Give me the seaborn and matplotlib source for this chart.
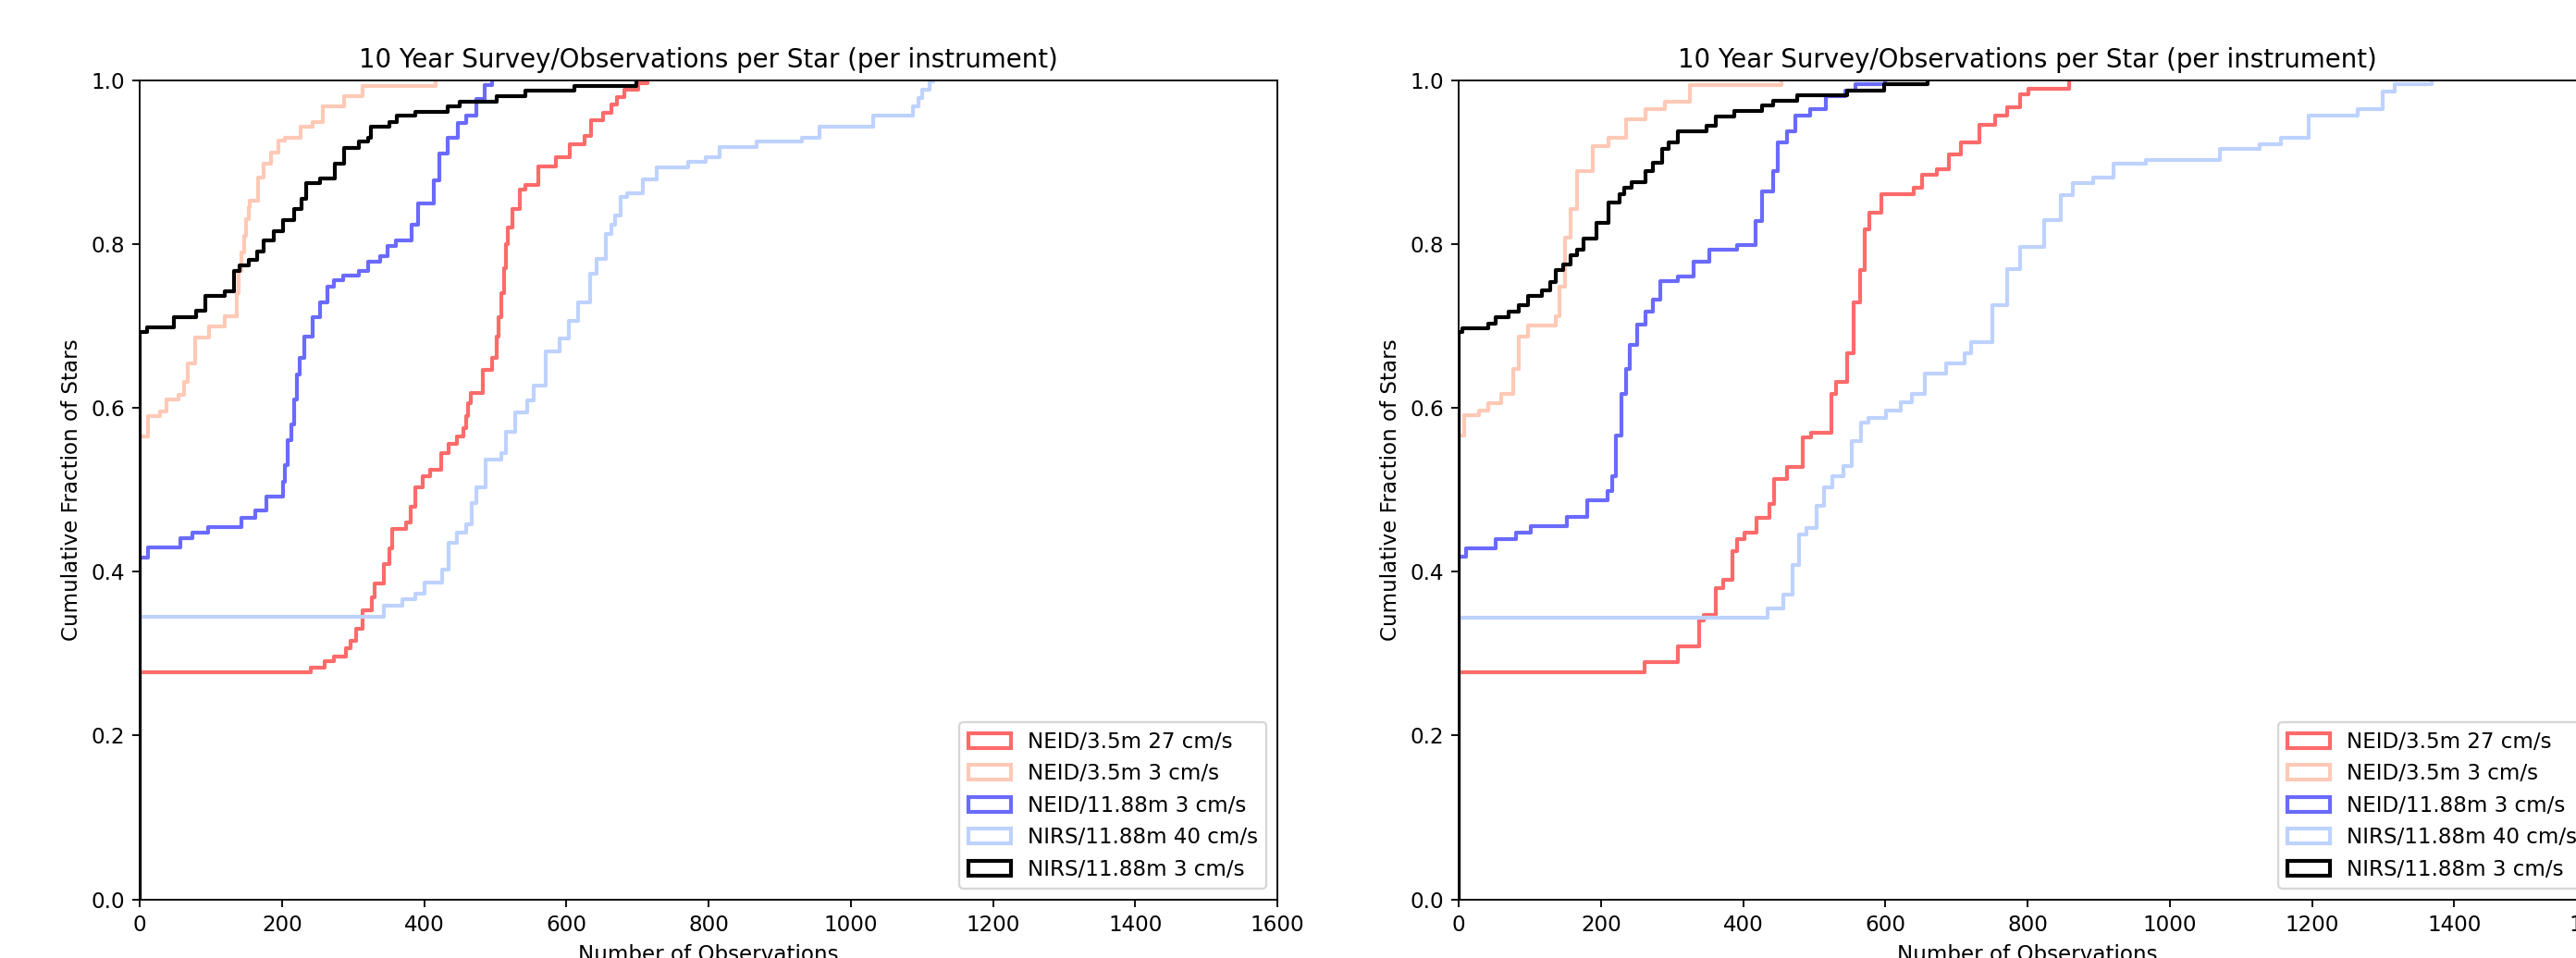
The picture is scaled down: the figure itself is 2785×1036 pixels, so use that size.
import numpy as np
import matplotlib
matplotlib.use("Agg")
import matplotlib.pyplot as plt
from matplotlib.patches import Patch
import seaborn as sns

# ---------------- data ----------------
title = "10 Year Survey/Observations per Star (per instrument)"
xlabel = "Number of Observations"
ylabel = "Cumulative Fraction of Stars"
labels = ["NEID/3.5m 27 cm/s", "NEID/3.5m 3 cm/s", "NEID/11.88m 3 cm/s",
          "NIRS/11.88m 40 cm/s", "NIRS/11.88m 3 cm/s"]
colors = ["#ff6a6a", "#ffc9b6", "#6a6aff", "#bed2ff", "#000000"]

# left panel: observation counts and cumulative fraction of stars reached there
left_red_obs = [0, 241, 260, 273, 290, 297, 305, 314, 327, 331, 344, 351, 355, 375, 381, 388, 398,
                409, 424, 435, 446, 455, 459, 462, 466, 483, 496, 502, 505, 509, 512, 515, 518, 524,
                534, 543, 560, 585, 605, 626, 635, 652, 664, 671, 681, 701, 714]
left_red_cum = [0.277, 0.283, 0.291, 0.296, 0.306, 0.315, 0.330, 0.353, 0.368, 0.385, 0.409, 0.428,
                0.452, 0.460, 0.479, 0.503, 0.516, 0.524, 0.545, 0.556, 0.565, 0.575, 0.590, 0.605,
                0.618, 0.646, 0.661, 0.687, 0.710, 0.740, 0.770, 0.800, 0.820, 0.842, 0.866, 0.872,
                0.894, 0.906, 0.921, 0.932, 0.951, 0.960, 0.970, 0.979, 0.988, 0.996, 1.0]

left_salmon_obs = [0, 12, 29, 38, 55, 63, 68, 78, 98, 120, 136, 139, 143, 147, 150, 153, 155, 167,
                   174, 185, 195, 204, 226, 243, 258, 288, 314, 416]
left_salmon_cum = [0.565, 0.590, 0.595, 0.610, 0.616, 0.631, 0.654, 0.686, 0.699, 0.712, 0.740,
                   0.767, 0.790, 0.810, 0.830, 0.845, 0.853, 0.881, 0.898, 0.911, 0.926, 0.930,
                   0.943, 0.949, 0.968, 0.980, 0.993, 1.0]

left_blue_obs = [0, 12, 57, 74, 96, 143, 163, 178, 201, 204, 208, 213, 217, 221, 225, 232, 243,
                 254, 264, 273, 286, 308, 321, 338, 349, 360, 383, 392, 414, 422, 433, 448, 459,
                 474, 485, 495]
left_blue_cum = [0.417, 0.429, 0.441, 0.448, 0.454, 0.466, 0.475, 0.492, 0.510, 0.530, 0.560,
                 0.580, 0.610, 0.640, 0.661, 0.687, 0.710, 0.729, 0.748, 0.756, 0.761, 0.767,
                 0.778, 0.785, 0.797, 0.804, 0.823, 0.849, 0.877, 0.910, 0.930, 0.947, 0.957,
                 0.977, 0.994, 1.0]

left_lblue_obs = [0, 344, 370, 388, 401, 426, 435, 446, 459, 467, 474, 487, 509, 515, 528, 545,
                  554, 571, 591, 604, 617, 634, 643, 655, 663, 669, 677, 686, 707, 727, 772, 796,
                  815, 867, 932, 956, 1031, 1088, 1095, 1101, 1111, 1116]
left_lblue_cum = [0.345, 0.358, 0.366, 0.373, 0.387, 0.402, 0.435, 0.447, 0.458, 0.484, 0.503,
                  0.537, 0.545, 0.571, 0.594, 0.609, 0.627, 0.669, 0.684, 0.706, 0.729, 0.763,
                  0.782, 0.812, 0.823, 0.835, 0.857, 0.862, 0.879, 0.893, 0.900, 0.906, 0.918,
                  0.925, 0.930, 0.943, 0.956, 0.968, 0.978, 0.988, 0.998, 1.0]

left_black_obs = [0, 10, 48, 79, 92, 120, 133, 141, 154, 165, 174, 189, 202, 217, 228, 234, 254,
                  275, 288, 308, 321, 325, 351, 362, 388, 433, 450, 502, 543, 612, 698]
left_black_cum = [0.692, 0.698, 0.710, 0.718, 0.736, 0.742, 0.767, 0.774, 0.780, 0.791, 0.804,
                  0.815, 0.829, 0.842, 0.855, 0.874, 0.880, 0.898, 0.917, 0.925, 0.930, 0.943,
                  0.949, 0.956, 0.961, 0.968, 0.973, 0.980, 0.987, 0.993, 1.0]

# right panel
right_red_obs = [0, 261, 308, 338, 345, 362, 372, 385, 392, 402, 419, 437, 444, 462, 484, 496,
                 524, 531, 546, 556, 564, 571, 578, 595, 640, 652, 672, 690, 706, 732, 755, 772,
                 790, 801, 858]
right_red_cum = [0.277, 0.289, 0.309, 0.340, 0.347, 0.380, 0.390, 0.425, 0.440, 0.448, 0.466,
                 0.483, 0.513, 0.528, 0.564, 0.569, 0.617, 0.632, 0.667, 0.728, 0.768, 0.818,
                 0.838, 0.861, 0.869, 0.884, 0.891, 0.909, 0.924, 0.945, 0.956, 0.967, 0.982,
                 0.989, 1.0]

right_salmon_obs = [0, 8, 28, 42, 60, 77, 85, 97, 137, 142, 149, 157, 166, 189, 211, 236, 263,
                    290, 325, 454]
right_salmon_cum = [0.566, 0.591, 0.596, 0.606, 0.617, 0.647, 0.687, 0.700, 0.712, 0.748, 0.808,
                    0.843, 0.889, 0.919, 0.929, 0.952, 0.964, 0.974, 0.994, 1.0]

right_blue_obs = [0, 10, 52, 80, 102, 152, 181, 209, 216, 221, 229, 236, 241, 251, 263, 273, 283,
                  308, 330, 352, 392, 417, 427, 442, 449, 462, 474, 494, 516, 544, 558, 600]
right_blue_cum = [0.418, 0.428, 0.440, 0.448, 0.455, 0.467, 0.487, 0.498, 0.516, 0.566, 0.617,
                  0.647, 0.677, 0.702, 0.717, 0.732, 0.754, 0.760, 0.778, 0.793, 0.798, 0.828,
                  0.864, 0.889, 0.924, 0.937, 0.957, 0.964, 0.980, 0.987, 0.995, 1.0]

right_lblue_obs = [0, 434, 457, 469, 479, 489, 504, 514, 526, 541, 553, 566, 576, 601, 622, 638,
                   655, 685, 712, 720, 750, 772, 790, 824, 847, 864, 893, 921, 967, 1070, 1127,
                   1156, 1196, 1265, 1299, 1316, 1368]
right_lblue_cum = [0.344, 0.355, 0.372, 0.408, 0.445, 0.453, 0.480, 0.503, 0.516, 0.529, 0.559,
                   0.582, 0.587, 0.596, 0.607, 0.617, 0.642, 0.654, 0.667, 0.680, 0.725, 0.769,
                   0.796, 0.829, 0.859, 0.874, 0.881, 0.898, 0.902, 0.916, 0.922, 0.930, 0.956,
                   0.965, 0.986, 0.995, 1.0]

right_black_obs = [0, 5, 42, 52, 70, 85, 97, 117, 129, 137, 147, 157, 166, 176, 194, 211, 226,
                   233, 243, 263, 273, 286, 295, 308, 348, 362, 387, 427, 442, 476, 546, 598, 660]
right_black_cum = [0.693, 0.697, 0.703, 0.711, 0.717, 0.725, 0.737, 0.743, 0.753, 0.768, 0.775,
                   0.786, 0.793, 0.806, 0.826, 0.851, 0.861, 0.869, 0.875, 0.889, 0.899, 0.916,
                   0.924, 0.937, 0.944, 0.955, 0.962, 0.969, 0.975, 0.981, 0.987, 0.995, 1.0]

xticks = [0, 200, 400, 600, 800, 1000, 1200, 1400, 1600]
yticks = [0.0, 0.2, 0.4, 0.6, 0.8, 1.0]

panels = [
    [(left_red_obs, left_red_cum), (left_salmon_obs, left_salmon_cum),
     (left_blue_obs, left_blue_cum), (left_lblue_obs, left_lblue_cum),
     (left_black_obs, left_black_cum)],
    [(right_red_obs, right_red_cum), (right_salmon_obs, right_salmon_cum),
     (right_blue_obs, right_blue_cum), (right_lblue_obs, right_lblue_cum),
     (right_black_obs, right_black_cum)],
]

# ---------------- figure ----------------
DPI = 166
W, H = 2785, 1036
LW = 1.8
fig = plt.figure(figsize=(W / DPI, H / DPI), dpi=DPI)
ax_w, ax_h = 1230 / W, 886 / H
bottom = (H - 972.5) / H
axes = [fig.add_axes([151 / W, bottom, ax_w, ax_h]),
        fig.add_axes([1577 / W, bottom, ax_w, ax_h])]

for ax, panel in zip(axes, panels):
    for (obs, cum), lab, col in zip(panel, labels, colors):
        obs = np.asarray(obs, dtype=float)
        w = np.diff(np.r_[0.0, np.asarray(cum, dtype=float)])
        sns.ecdfplot(x=obs, weights=w, ax=ax, color=col, lw=LW, label=lab)
    ax.set_xlim(0, 1600)
    ax.set_ylim(0, 1.0)
    ax.set_xticks(xticks)
    ax.set_yticks(yticks)
    ax.set_title(title)
    ax.set_xlabel(xlabel)
    ax.set_ylabel(ylabel)
    handles = [Patch(facecolor="none", edgecolor=c, lw=LW, label=l)
               for l, c in zip(labels, colors)]
    ax.legend(handles=handles, loc="lower right")

fig.savefig("out.png", dpi=DPI)
